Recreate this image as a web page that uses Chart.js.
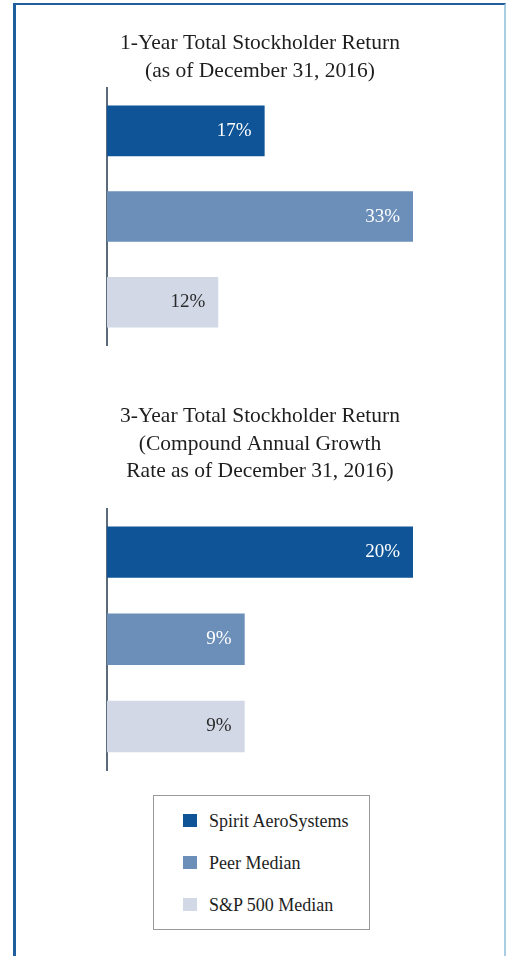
<!DOCTYPE html>
<html>
<head>
<meta charset="utf-8">
<script src="https://cdn.jsdelivr.net/npm/chart.js@4.4.1/dist/chart.umd.min.js"></script>
<style>
  html, body { margin: 0; padding: 0; background: #ffffff; }
  body { width: 506px; height: 956px; position: relative; overflow: hidden; font-family: "Liberation Serif", "Times New Roman", serif; }
  #frame { position: absolute; left: 13px; top: 3px; width: 488px; height: 960px;
           border-left: 3px solid #1f5f9e; border-top: 2px solid #1f5f9e; border-right: 2px solid #a9cde3; }
  .chartbox { position: absolute; left: 0; width: 506px; }
  #c1box { top: 0; height: 360px; }
  #c2box { top: 370px; height: 410px; }
  #legend { position: absolute; left: 153px; top: 795px; width: 215px; height: 133px;
            border: 1px solid #9a9a9a; background: #fff; }
  .item { position: absolute; left: 29px; height: 22px; font-size: 18px; color: #1e1e1e; line-height: 22px; white-space: nowrap; }
  .item span.sw { display: inline-block; width: 14px; height: 13px; vertical-align: middle; margin-right: 12px; position: relative; top: -2px; }
</style>
</head>
<body>
<div id="frame"></div>
<div class="chartbox" id="c1box"><canvas id="c1"></canvas></div>
<div class="chartbox" id="c2box"><canvas id="c2"></canvas></div>
<div id="legend"></div>
<script>
// ---- data ----
const seriesNames = ['Spirit AeroSystems', 'Peer Median', 'S&P 500 Median'];
const colors = ['#0e5496', '#6c8fba', '#d2d8e6'];
const labelColors = ['#ffffff', '#ffffff', '#2a2a2a'];
const oneYearValues = [17, 33, 12];
const threeYearValues = [20, 9, 9];
const oneYearTitle = ['1-Year Total Stockholder Return', '(as of December 31, 2016)'];
const threeYearTitle = ['3-Year Total Stockholder Return', '(Compound Annual Growth', 'Rate as of December 31, 2016)'];

const valueLabels = {
  id: 'valueLabels',
  afterDatasetsDraw(chart) {
    const ctx = chart.ctx;
    const meta = chart.getDatasetMeta(0);
    const data = chart.data.datasets[0].data;
    ctx.save();
    ctx.font = '19px "Liberation Serif", "Times New Roman", serif';
    ctx.textAlign = 'right';
    ctx.textBaseline = 'middle';
    meta.data.forEach((bar, i) => {
      ctx.fillStyle = labelColors[i];
      ctx.fillText(data[i] + '%', bar.x - 13, bar.y);
    });
    ctx.restore();
  }
};

function makeChart(id, values, title, pad) {
  return new Chart(document.getElementById(id), {
    type: 'bar',
    data: {
      labels: seriesNames,
      datasets: [{
        data: values,
        backgroundColor: colors,
        borderWidth: 0,
        categoryPercentage: 1.0,
        barPercentage: 0.59
      }]
    },
    options: {
      indexAxis: 'y',
      responsive: true,
      maintainAspectRatio: false,
      animation: false,
      layout: { padding: pad },
      plugins: {
        legend: { display: false },
        tooltip: { enabled: false },
        title: {
          display: true,
          text: title,
          color: '#1e1e1e',
          font: { family: '"Liberation Serif", "Times New Roman", serif', size: 21.5, weight: 'normal', lineHeight: 1.28 },
          padding: { top: 0, bottom: pad.titleBottom }
        }
      },
      scales: {
        x: { display: false, min: 0, max: Math.max(...values) },
        y: {
          display: true,
          grid: { display: false, drawTicks: false },
          ticks: { display: false },
          border: { display: true, color: '#5b6b7b', width: 2 }
        }
      }
    },
    plugins: [valueLabels]
  });
}

const c1 = makeChart('c1', oneYearValues, oneYearTitle, { top: 30, left: 107, right: 93, bottom: 15, titleBottom: 3 });
const c2 = makeChart('c2', threeYearValues, threeYearTitle, { top: 33, left: 107, right: 93, bottom: 10, titleBottom: 23 });

// legend
const lg = document.getElementById('legend');
const tops = [14, 56, 98];
seriesNames.forEach((n, i) => {
  const d = document.createElement('div');
  d.className = 'item';
  d.style.top = tops[i] + 'px';
  const sw = document.createElement('span');
  sw.className = 'sw';
  sw.style.background = colors[i];
  d.appendChild(sw);
  d.appendChild(document.createTextNode(n));
  lg.appendChild(d);
});
</script>
</body>
</html>
